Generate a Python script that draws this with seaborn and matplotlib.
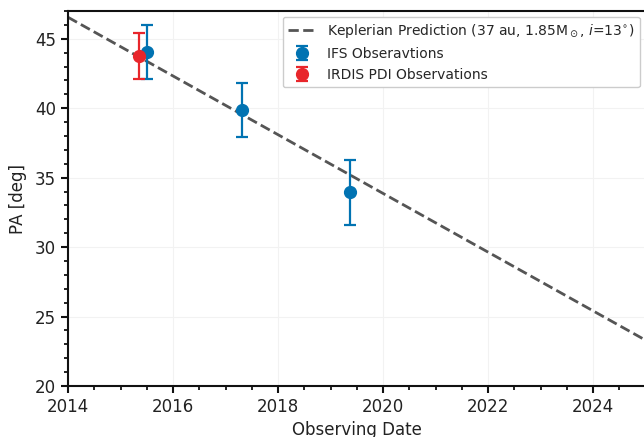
import matplotlib
matplotlib.use("Agg")
import matplotlib.pyplot as plt
from matplotlib.ticker import MultipleLocator
import seaborn as sns
import pandas as pd

# Data
kep_dates = [2014.0, 2025.0]
kep_pa = [46.55, 23.3]

ifs_dates = [2015.5, 2017.31, 2019.37]
ifs_pa = [44.05, 39.85, 33.95]
ifs_err = [1.95, 1.95, 2.35]

irdis_dates = [2015.35]
irdis_pa = [43.75]
irdis_err = [1.65]

kep_label = r"Keplerian Prediction (37 au, 1.85M$_\odot$, $i$=13$^{\circ}$)"
ifs_label = "IFS Obseravtions"
irdis_label = "IRDIS PDI Observations"

sns.set_theme(style="ticks")
plt.rcParams['font.family'] = ['DejaVu Sans']

fig = plt.figure(figsize=(6.44, 4.37), dpi=100)
ax = fig.add_axes([68/644, 51/437, 577.5/644, 375/437])

kep_df = pd.DataFrame({"date": kep_dates, "pa": kep_pa})
sns.lineplot(data=kep_df, x="date", y="pa", ax=ax, color="#555555",
             linestyle="--", linewidth=2, label=kep_label)

ax.errorbar(ifs_dates, ifs_pa, yerr=ifs_err, fmt="o", color="#0173b2",
            ms=8.5, elinewidth=1.6, capsize=4, capthick=1.6, label=ifs_label, zorder=3)
ax.errorbar(irdis_dates, irdis_pa, yerr=irdis_err, fmt="o", color="#e8262b",
            ms=8.5, elinewidth=1.6, capsize=4, capthick=1.6, label=irdis_label, zorder=3)

ax.set_xlim(2014, 2025)
ax.set_ylim(20, 47)
ax.xaxis.set_major_locator(MultipleLocator(2))
ax.xaxis.set_minor_locator(MultipleLocator(0.5))
ax.yaxis.set_major_locator(MultipleLocator(5))
ax.yaxis.set_minor_locator(MultipleLocator(1))
ax.grid(True, which="major", color="#f2f2f2", linewidth=0.8)
ax.set_axisbelow(True)

for s in ax.spines.values():
    s.set_color("#111111")
    s.set_linewidth(1.5)
ax.tick_params(axis="both", which="major", direction="out", length=5, width=1.5,
               labelsize=12, colors="#111111", labelcolor="#222222")
ax.tick_params(axis="both", which="minor", direction="out", length=3, width=1.3,
               colors="#111111")

ax.set_xlabel("Observing Date", fontsize=12, color="#222222", labelpad=4)
ax.set_ylabel("PA [deg]", fontsize=12, color="#222222", labelpad=6)

leg = ax.legend(loc="upper right", fontsize=10, frameon=True, fancybox=True,
                framealpha=1.0, edgecolor="#cccccc", borderaxespad=0.4)

fig.savefig("out.png", dpi=100)
